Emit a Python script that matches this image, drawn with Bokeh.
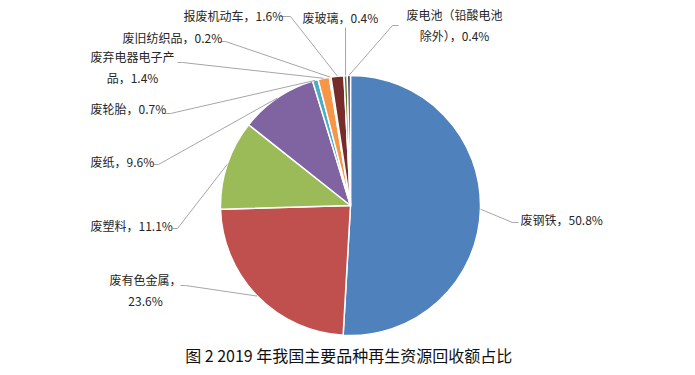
import numpy as np
from bokeh.plotting import figure
from bokeh.models import Range1d, ColumnDataSource
from bokeh.core.properties import value
from bokeh.embed import file_html
from bokeh.resources import INLINE

# ---- data ----
categories = ["废钢铁", "废有色金属", "废塑料", "废纸", "废轮胎", "废弃电器电子产品",
              "废旧纺织品", "报废机动车", "废玻璃", "废电池（铅酸电池除外）"]
shares = [50.8, 23.6, 11.1, 9.6, 0.7, 1.4, 0.2, 1.6, 0.4, 0.4]
label_texts = ["废钢铁，50.8%", "废有色金属，\n23.6%", "废塑料，11.1%", "废纸，9.6%",
               "废轮胎，0.7%", "废弃电器电子产\n品，1.4%", "废旧纺织品，0.2%",
               "报废机动车，1.6%", "废玻璃，0.4%", "废电池（铅酸电池\n除外），0.4%"]
colors = ["#4F81BD", "#C0504D", "#9BBB59", "#8064A2", "#4BACC6", "#F79646",
          "#2C4D75", "#772C2A", "#5F7530", "#4D3B62"]
caption = "图 2  2019 年我国主要品种再生资源回收额占比"

# ---- layout (picture pixel coordinates) ----
W, H = 687, 367
def PX(x): return x
def PY(y): return H - y

cx, cy, R = PX(350), PY(205), 130
lab_x = [520, 145, 90, 90, 90, 132, 122, 183, 302, 454]
lab_y = [219, 289.5, 225, 161, 108, 66.5, 37, 15, 17, 24.5]
lab_align = ["left", "center", "left", "left", "left", "center", "left", "left", "left", "center"]
lead_end = [(518, 222), (180, 285), (172, 228), (153, 164), (165, 113), (177, 62),
            (220, 41), (280, 16), (345, 27), (398, 25)]
lead_elbow = [(512, 222), (185, 285), (177, 228), (158, 164), (170, 113), (182, 62),
              (225, 41), (290, 16), (345, 27), (392, 25)]

vals = np.array(shares, dtype=float)
frac = vals / vals.sum()
cum_end = np.cumsum(frac)
cum_start = cum_end - frac
start_angle = np.pi / 2 - 2 * np.pi * cum_end
end_angle = np.pi / 2 - 2 * np.pi * cum_start
mid = np.pi / 2 - 2 * np.pi * (cum_start + cum_end) / 2

p = figure(width=W, height=H, x_range=Range1d(0, W), y_range=Range1d(0, H),
           output_backend="svg", toolbar_location=None, min_border=0)
p.axis.visible = False
p.grid.visible = False
p.outline_line_color = None
p.background_fill_color = "white"

src = ColumnDataSource(dict(start=start_angle, end=end_angle, color=colors, cat=categories))
p.wedge(x=cx, y=cy, radius=R, start_angle="start", end_angle="end",
        fill_color="color", line_color="white", line_width=1.5, source=src)

xs, ys = [], []
for i in range(len(categories)):
    ex = cx + R * np.cos(mid[i])
    ey = cy + R * np.sin(mid[i])
    xs.append([PX(lead_end[i][0]), PX(lead_elbow[i][0]), ex])
    ys.append([PY(lead_end[i][1]), PY(lead_elbow[i][1]), ey])
p.multi_line(xs=xs, ys=ys, line_color="#A6A6A6", line_width=1)

tsrc = ColumnDataSource(dict(x=[PX(v) for v in lab_x], y=[PY(v) for v in lab_y],
                             t=label_texts, a=lab_align))
p.text(x="x", y="y", text="t", text_align="a", text_baseline="middle",
       text_font=value("Noto Sans CJK SC"), text_font_size="12px",
       text_color="#262626", text_line_height=1.25, source=tsrc)

p.text(x=[PX(350)], y=[PY(354)], text=[caption], text_align="center",
       text_baseline="middle", text_font=value("Noto Sans CJK SC"),
       text_font_size="16px", text_color="#111111")

open("out.html", "w").write(file_html(p, INLINE))
